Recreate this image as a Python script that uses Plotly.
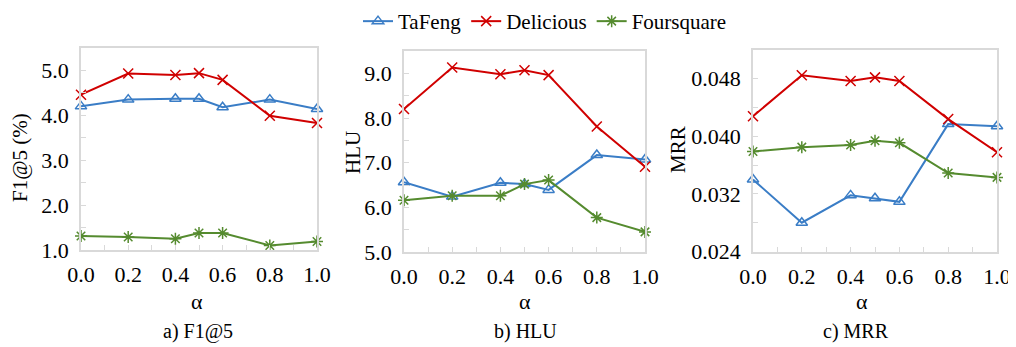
import plotly.graph_objects as go

# The page body has an 8px margin, so the figure is sized to fill the rest of the window
# and screen positions are converted to figure positions by subtracting that offset.
SCREEN_W, SCREEN_H = 1016, 347
OFF = 8
W, H = SCREEN_W - OFF, SCREEN_H - OFF

alpha = [0.0, 0.2, 0.4, 0.5, 0.6, 0.8, 1.0]
series_names = ["TaFeng", "Delicious", "Foursquare"]

f1_tafeng = [4.20, 4.35, 4.37, 4.37, 4.18, 4.35, 4.14]
f1_delicious = [4.46, 4.93, 4.90, 4.94, 4.79, 3.99, 3.83]
f1_foursquare = [1.31, 1.29, 1.25, 1.38, 1.38, 1.10, 1.19]

hlu_tafeng = [6.56, 6.24, 6.55, 6.52, 6.39, 7.17, 7.07]
hlu_delicious = [8.20, 9.13, 8.98, 9.07, 8.96, 7.81, 6.91]
hlu_foursquare = [6.16, 6.26, 6.26, 6.52, 6.61, 5.77, 5.45]

mrr_tafeng = [0.0340, 0.0280, 0.0318, 0.0314, 0.0309, 0.0417, 0.0414]
mrr_delicious = [0.0428, 0.0485, 0.0477, 0.0482, 0.0477, 0.0424, 0.0378]
mrr_foursquare = [0.0379, 0.0385, 0.0388, 0.0394, 0.0391, 0.0349, 0.0343]

y_titles = ["F1@5 (%)", "HLU", "MRR"]
captions = ["a) F1@5", "b) HLU", "c) MRR"]

colors = ["#3A7DC6", "#D00000", "#558B2F"]
symbols = ["triangle-up-open", "x-thin-open", "asterisk-open"]

panels = [
    dict(data=[f1_tafeng, f1_delicious, f1_foursquare], x=(81, 317), y=(48, 250),
         rng=[1.0, 5.5], dtick=1.0, minor=0.5, fmt=".1f"),
    dict(data=[hlu_tafeng, hlu_delicious, hlu_foursquare], x=(404, 645), y=(51, 252),
         rng=[5.0, 9.5], dtick=1.0, minor=0.5, fmt=".1f"),
    dict(data=[mrr_tafeng, mrr_delicious, mrr_foursquare], x=(753, 997), y=(50, 251.5),
         rng=[0.024, 0.052], dtick=0.008, minor=0.004, fmt=".3f"),
]

FONT = "Liberation Serif, Times New Roman, Times, serif"
GRID = "#D9D9D9"

def px(xs):
    return (xs - OFF) / W

def py(ys):
    return 1 - (ys - OFF) / H

fig = go.Figure()
layout = dict(
    width=W, height=H,
    margin=dict(l=0, r=0, t=0, b=0, autoexpand=False),
    paper_bgcolor="white", plot_bgcolor="white",
    font=dict(family=FONT, size=19, color="black"),
    showlegend=True,
    legend=dict(orientation="h", x=px(545), xanchor="center", y=1 + 7 / H, yanchor="top",
                font=dict(family=FONT, size=21, color="black"),
                itemwidth=30, tracegroupgap=0, bgcolor="rgba(0,0,0,0)"),
)
annotations = []

for i, p in enumerate(panels):
    n = "" if i == 0 else str(i + 1)
    for j in range(3):
        fig.add_trace(go.Scatter(
            x=alpha, y=p["data"][j], mode="lines+markers", name=series_names[j],
            xaxis="x" + n, yaxis="y" + n, showlegend=(i == 0), cliponaxis=False,
            line=dict(color=colors[j], width=2),
            marker=dict(symbol=symbols[j], size=10, color=colors[j],
                        line=dict(color=colors[j], width=1.5)),
        ))
    layout["xaxis" + n] = dict(
        domain=[px(p["x"][0]), px(p["x"][1])], anchor="y" + n, automargin=False,
        range=[0, 1], tickvals=[0, 0.2, 0.4, 0.6, 0.8, 1.0], ticktext=["0.0", "0.2", "0.4", "0.6", "0.8", "1.0"],
        showgrid=False, zeroline=False, showline=True, mirror=True, linecolor=GRID, linewidth=1.5,
        ticks="inside", ticklen=5, tickcolor=GRID, tickwidth=1,
        minor=dict(dtick=0.1, tick0=0, ticks="inside", ticklen=5, tickcolor=GRID, showgrid=False),
        ticklabelstandoff=4, tickfont=dict(family=FONT, size=22),
    )
    layout["yaxis" + n] = dict(
        domain=[py(p["y"][1]), py(p["y"][0])], anchor="x" + n, automargin=False,
        range=p["rng"], dtick=p["dtick"], tick0=p["rng"][0], tickformat=p["fmt"],
        showgrid=False, zeroline=False, showline=True, mirror=True, linecolor=GRID, linewidth=1.5,
        ticks="inside", ticklen=5, tickcolor=GRID, tickwidth=1,
        minor=dict(dtick=p["minor"], tick0=p["rng"][0], ticks="inside", ticklen=5, tickcolor=GRID, showgrid=False),
        ticklabelstandoff=6, tickfont=dict(family=FONT, size=22),
    )

alpha_x = [197, 525, 862]
cap_x = [198, 525, 856]
ytitle_pos = [(20, 158), (353, 153), (678, 150)]
for i in range(3):
    annotations.append(dict(text="α", x=px(alpha_x[i]), y=py(301), xref="paper", yref="paper",
                            showarrow=False, font=dict(family=FONT, size=22), xanchor="center", yanchor="middle"))
    annotations.append(dict(text=captions[i], x=px(cap_x[i]), y=py(331), xref="paper", yref="paper",
                            showarrow=False, font=dict(family=FONT, size=20), xanchor="center", yanchor="middle"))
    annotations.append(dict(text=y_titles[i], x=px(ytitle_pos[i][0]), y=py(ytitle_pos[i][1]),
                            xref="paper", yref="paper", textangle=-90, showarrow=False,
                            font=dict(family=FONT, size=21), xanchor="center", yanchor="middle"))

layout["annotations"] = annotations
fig.update_layout(**layout)
fig.write_html("out.html")
